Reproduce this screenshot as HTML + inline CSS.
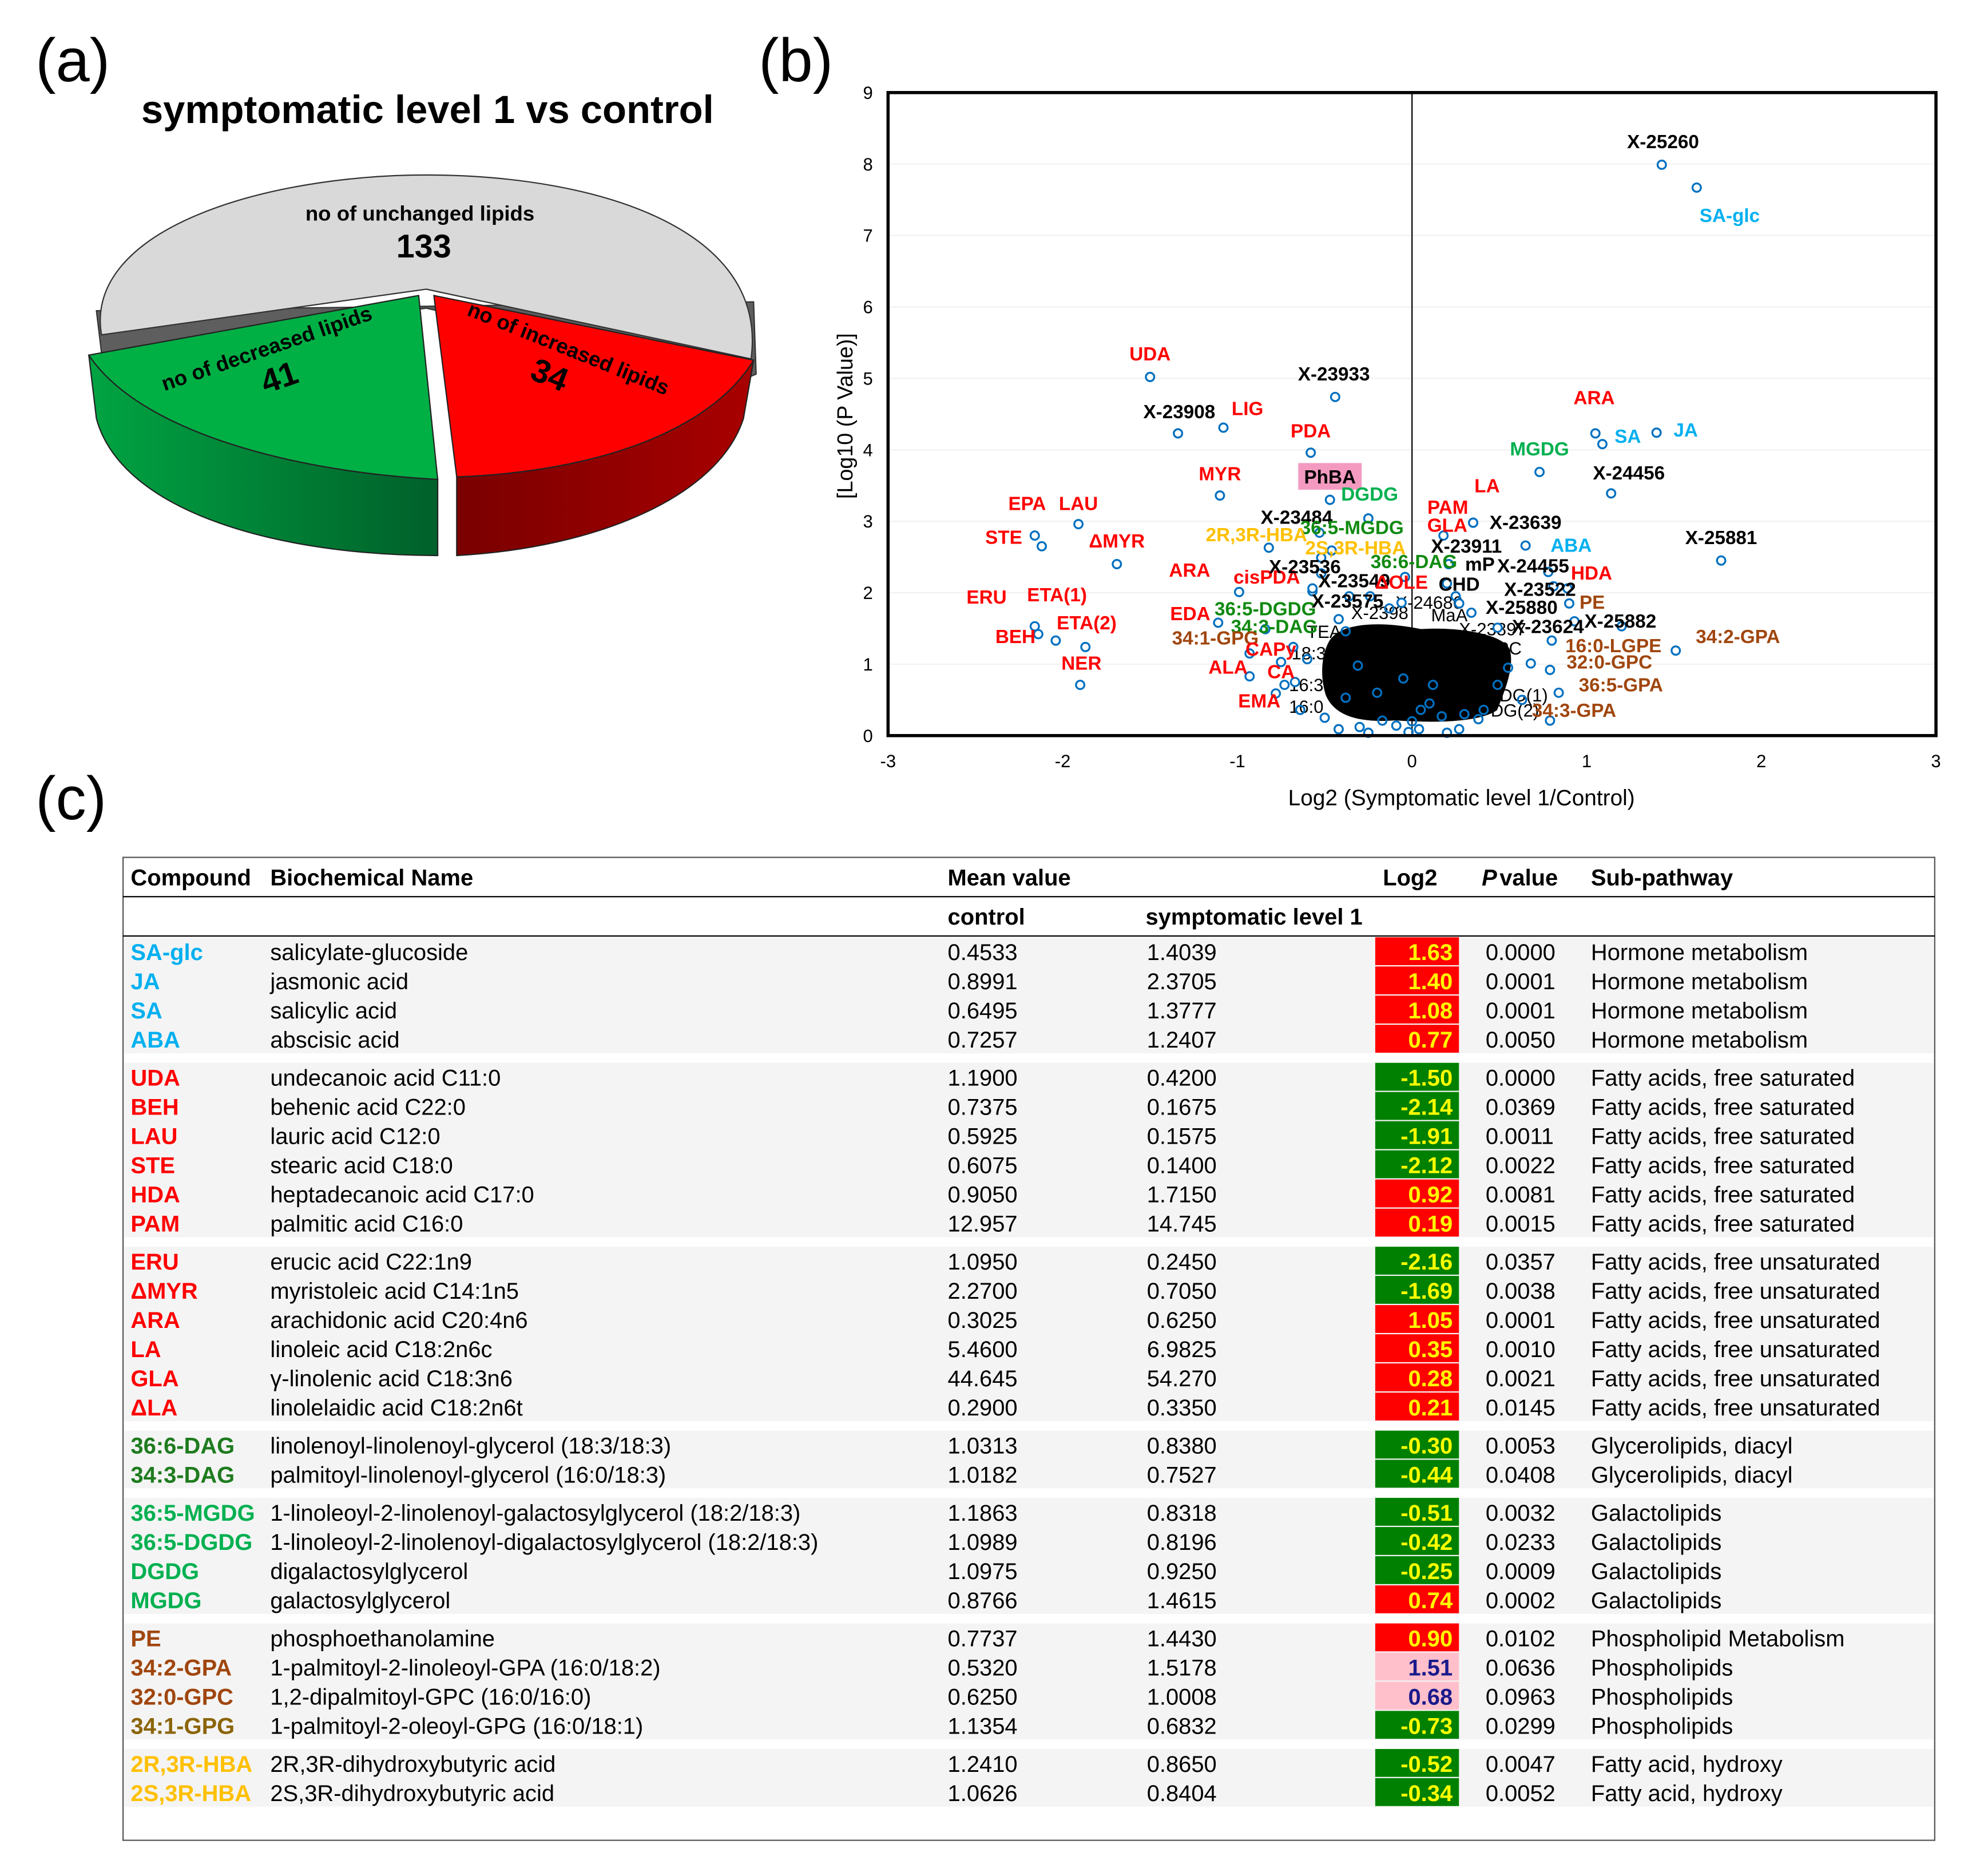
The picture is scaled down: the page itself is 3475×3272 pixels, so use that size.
<!DOCTYPE html>
<html><head><meta charset="utf-8">
<style>
html,body{margin:0;padding:0;background:#fff;}
svg{display:block;}
text{font-family:"Liberation Sans",Arial,sans-serif;}
</style></head>
<body>
<svg id="fig" width="3475" height="3272" viewBox="0 0 1567 1476" preserveAspectRatio="none" xmlns="http://www.w3.org/2000/svg">
<defs>
<linearGradient id="gside" x1="0" x2="1" y1="0" y2="0"><stop offset="0" stop-color="#00a442"/><stop offset="1" stop-color="#00602a"/></linearGradient>
<linearGradient id="rside" x1="0" x2="1" y1="0" y2="0"><stop offset="0" stop-color="#7a0000"/><stop offset="1" stop-color="#a80000"/></linearGradient>
</defs>
<rect width="1567" height="1476" fill="#fff"/>

<text x="28" y="64" font-size="48">(a)</text>
<text x="598" y="64" font-size="48">(b)</text>
<text x="28" y="646" font-size="48">(c)</text>

<g>
<text x="337" y="97" font-size="31" font-weight="bold" text-anchor="middle">symptomatic level 1 vs control</text>
<path d="M76,245 L80,278 L336,243 L584,300 L596,295 L594,238 Z" fill="#5e5e5e" stroke="#333" stroke-width="1"/>
<path d="M336,228 L80,264 C66,180 210,138 336,138 C470,138 606,180 592,283 Z" fill="#d9d9d9" stroke="#333" stroke-width="1"/>
<path d="M70,280 C110,340 230,372 345,378 L345,438 C220,438 96,404 76,330 Z" fill="url(#gside)" stroke="#222" stroke-width="1"/>
<path d="M330,233 L70,280 C110,340 230,372 345,378 Z" fill="#00b045" stroke="#222" stroke-width="1"/>
<path d="M594,284 C560,340 470,372 360,376 L360,438 C470,432 566,392 586,330 Z" fill="url(#rside)" stroke="#222" stroke-width="1"/>
<path d="M342,233 L594,284 C560,340 470,372 360,376 Z" fill="#ff0000" stroke="#222" stroke-width="1"/>
<text x="331" y="174" font-size="16.5" font-weight="bold" text-anchor="middle">no of unchanged lipids</text>
<text x="334" y="203" font-size="26" font-weight="bold" text-anchor="middle">133</text>
<g transform="translate(212,280) rotate(-19)"><text x="0" y="0" font-size="16.5" font-weight="bold" text-anchor="middle">no of decreased lipids</text>
<text x="2" y="28" font-size="26" font-weight="bold" text-anchor="middle">41</text></g>
<g transform="translate(446,280) rotate(22)"><text x="0" y="0" font-size="16.5" font-weight="bold" text-anchor="middle">no of increased lipids</text>
<text x="-6" y="28" font-size="26" font-weight="bold" text-anchor="middle">34</text></g>
</g>

<g id="volcano"></g>
<g id="tbl"></g>
</svg>

<script>
var NS="http://www.w3.org/2000/svg";
var ptLabels=["X-25260","SA-glc","UDA","X-23933","X-23908","LIG","PDA","ARA","SA","JA","MGDG","X-24456","MYR","PhBA","DGDG","LAU","EPA","STE","ΔMYR","X-25881","X-23639","GLA","LA","PAM","ABA","X-24455","HDA","X-23522","PE","X-25880","X-23624","X-25882","16:0-LGPE","32:0-GPC","36:5-GPA","34:3-GPA","34:2-GPA","ARA","cisPDA","EDA","36:5-DGDG","34:3-DAG","34:1-GPG","ETA(1)","BEH","ERU","ETA(2)","NER","ALA","CAPy","CA","EMA","X-23484","36:5-MGDG","2R,3R-HBA","2S,3R-HBA","X-23911","36:6-DAG","mP","X-23536","X-23549","X-23575","ΔOLE","CHD"];
var ptLog2=[1.43,1.63,-1.50,-0.44,-1.34,-1.08,-0.58,1.05,1.09,1.40,0.73,1.14,-1.10,-0.47,-0.25,-1.91,-2.16,-2.12,-1.69,1.77,0.65,0.18,0.35,0.35,0.78,0.81,0.89,0.90,0.93,0.49,0.80,1.20,0.79,0.68,0.84,0.79,1.51,-0.99,-0.57,-1.11,-0.84,-0.68,-0.93,-2.04,-2.14,-2.16,-1.87,-1.90,-0.93,-0.75,-0.67,-0.78,-0.53,-0.46,-0.52,-0.52,0.21,-0.04,0.20,-0.57,-0.36,-0.42,-0.06,0.27];
var ptLogP=[7.99,7.67,5.02,4.74,4.23,4.31,3.96,4.23,4.08,4.24,3.69,3.39,3.36,3.30,3.04,2.96,2.80,2.65,2.40,2.45,2.66,2.80,2.98,2.98,2.29,2.09,2.06,1.85,1.60,1.51,1.33,1.53,0.92,1.01,0.60,0.21,1.19,2.01,2.02,1.58,1.49,1.24,1.15,1.33,1.42,1.53,1.24,0.71,0.83,1.03,0.75,0.59,2.84,2.59,2.49,2.27,2.40,2.22,2.13,2.06,1.95,1.63,1.86,1.85];
var ptColorClass=["k","b","r","k","k","r","r","r","b","b","g","k","r","k","g","r","r","r","r","k","k","r","r","r","b","k","r","k","n","k","k","k","n","n","n","n","n","r","r","r","d","d","n","r","r","r","r","r","r","r","r","r","k","d","o","o","k","d","k","k","k","k","r","k"];
var labelOffsetX=[1,26,0,-1,1,19,0,-1,20,23,0,14,0,0,1,0,-6,-30,0,0,0,3,11,-20,18,-16,19,-23,14,19,-3,-1,50,62,49,19,49,-39,-36,-22,0,-15,-27,1,-18,-38,1,1,-17,-8,-11,-13,-18,16,-51,27,14,7,26,-6,4,7,0,0];
var labelOffsetY=[-18,22,-18,-18,-17,-15,-17,-28,-6,-2,-18,-16,-17,-18,-19,-16,-25,-7,-18,-18,-18,-8,-29,-12,-21,-16,-12,-11,-15,-16,-11,-4,-19,-1,-6,-8,-11,-17,-11,-7,-16,-16,-12,-36,2,-23,-19,-17,-7,-10,-8,6,-12,-18,-18,-20,-14,-12,-15,-17,-12,-14,-16,-15];
var bgLog2=[-0.42,-0.25,-0.09,-0.02,0.20,0.38,0.41,0.63,-0.64,-0.73,-0.38,0.05,-0.17,0.27,-0.60,-0.31,0.12,0.49,-0.24,-0.13,0.25,0.34,-0.82,-0.38,0.04,0.17,-0.20,0.10,-0.05,0.30,-0.50,0.55,0.00,-0.30];
var bgLogP=[0.09,0.04,0.14,0.05,0.04,0.23,0.36,0.50,0.36,0.71,0.53,0.36,0.21,0.09,1.07,0.98,0.71,0.71,1.95,1.78,1.95,1.72,2.63,1.46,0.09,0.27,0.60,0.45,0.80,0.30,0.25,0.95,0.20,0.12];
var xTicks=[-3,-2,-1,0,1,2,3];
var yTicks=[0,1,2,3,4,5,6,7,8,9];

var colorMap={k:"#000",b:"#00b0f0",r:"#ff0000",g:"#00b050",d:"#108a10",o:"#ffc000",n:"#a0460e"};
var PX0=700,PX1=1526,PY0=73,PY1=580;
function X(v){return PX0+(v+3)/6*(PX1-PX0);}
function Y(v){return PY1-v/9*(PY1-PY0);}
function mk(tag,attrs,parent){var e=document.createElementNS(NS,tag);for(var k in attrs)e.setAttribute(k,attrs[k]);parent.appendChild(e);return e;}
var V=document.getElementById("volcano");
var plotBg=mk("rect",{x:PX0,y:PY0,width:PX1-PX0,height:PY1-PY0,fill:"#fff"},V);


yTicks.forEach(function(t){
  if(t>0&&t<9){var gl=mk("line",{x1:PX0,x2:PX1,y1:Y(t),y2:Y(t),stroke:"#f2f2f2","stroke-width":1},V);
  
  }
  var tl=mk("text",{x:688,y:Y(t)+5,"font-size":14,"text-anchor":"end"},V);tl.textContent=t;
  
  
});
xTicks.forEach(function(t){
  var tl=mk("text",{x:X(t),y:605,"font-size":14,"text-anchor":"middle"},V);tl.textContent=t;
  
  
});
var zl=mk("line",{x1:X(0),x2:X(0),y1:PY0,y2:PY1,stroke:"#000","stroke-width":1},V);


var blob=mk("path",{d:"M1048,505 C1058,490 1090,490 1120,496 C1150,494 1185,500 1190,512 C1194,526 1186,545 1180,560 C1165,570 1130,570 1100,568 C1072,570 1052,565 1045,548 C1040,532 1042,515 1048,505 Z",fill:"#000"},V);


var extra=[["TEA",1030,503],["18:3",1018,520],["16:3",1016,545],["16:0",1016,562],["PC",1180,516],["DG(1)",1182,553],["DG(2)",1175,565],["MaA",1128,490],["X-23897",1150,501],["X-2398",1065,488],["X-24686",1100,480]];
extra.forEach(function(e){var t=mk("text",{x:e[1],y:e[2],"font-size":14},V);t.textContent=e[0];
  
  });
bgLog2.forEach(function(v,i){
  var c=mk("circle",{cx:X(v),cy:Y(bgLogP[i]),r:3.3,fill:"none",stroke:"#0070c0","stroke-width":1.5},V);
  
  
});
ptLog2.forEach(function(v,i){
  var c=mk("circle",{cx:X(v),cy:Y(ptLogP[i]),r:3.3,fill:"#fff",stroke:"#0070c0","stroke-width":1.5},V);
  
  
});
ptLog2.forEach(function(v,i){
  var lx=X(v)+labelOffsetX[i],ly=Y(ptLogP[i])+labelOffsetY[i];
  if(ptLabels[i]==="PhBA"){var bx=mk("rect",{x:lx-25,y:ly-11,width:50,height:21,fill:"#f49ac1"},V);
    
    }
  var t=mk("text",{x:lx,y:ly+5,"font-size":15,"font-weight":"bold","text-anchor":"middle",fill:colorMap[ptColorClass[i]]},V);
  t.textContent=ptLabels[i];
  
  
});
var fr=mk("rect",{x:PX0,y:PY0,width:PX1-PX0,height:PY1-PY0,fill:"none",stroke:"#000","stroke-width":2.5},V);


var xt=mk("text",{x:1152,y:635,"font-size":17.5,"text-anchor":"middle"},V);xt.textContent="Log2 (Symptomatic level 1/Control)";


var yt=mk("text",{x:0,y:0,"font-size":17,"text-anchor":"middle",transform:"translate(672,328) rotate(-90)"},V);yt.textContent="[Log10 (P Value)]";



var T=document.getElementById("tbl");
var rows=[
[["SA-glc","b","salicylate-glucoside","0.4533","1.4039","1.63","r","0.0000","Hormone metabolism"],
 ["JA","b","jasmonic acid","0.8991","2.3705","1.40","r","0.0001","Hormone metabolism"],
 ["SA","b","salicylic acid","0.6495","1.3777","1.08","r","0.0001","Hormone metabolism"],
 ["ABA","b","abscisic acid","0.7257","1.2407","0.77","r","0.0050","Hormone metabolism"]],
[["UDA","r","undecanoic acid C11:0","1.1900","0.4200","-1.50","g","0.0000","Fatty acids, free saturated"],
 ["BEH","r","behenic acid C22:0","0.7375","0.1675","-2.14","g","0.0369","Fatty acids, free saturated"],
 ["LAU","r","lauric acid C12:0","0.5925","0.1575","-1.91","g","0.0011","Fatty acids, free saturated"],
 ["STE","r","stearic acid C18:0","0.6075","0.1400","-2.12","g","0.0022","Fatty acids, free saturated"],
 ["HDA","r","heptadecanoic acid C17:0","0.9050","1.7150","0.92","r","0.0081","Fatty acids, free saturated"],
 ["PAM","r","palmitic acid C16:0","12.957","14.745","0.19","r","0.0015","Fatty acids, free saturated"]],
[["ERU","r","erucic acid C22:1n9","1.0950","0.2450","-2.16","g","0.0357","Fatty acids, free unsaturated"],
 ["ΔMYR","r","myristoleic acid C14:1n5","2.2700","0.7050","-1.69","g","0.0038","Fatty acids, free unsaturated"],
 ["ARA","r","arachidonic acid C20:4n6","0.3025","0.6250","1.05","r","0.0001","Fatty acids, free unsaturated"],
 ["LA","r","linoleic acid C18:2n6c","5.4600","6.9825","0.35","r","0.0010","Fatty acids, free unsaturated"],
 ["GLA","r","γ-linolenic acid C18:3n6","44.645","54.270","0.28","r","0.0021","Fatty acids, free unsaturated"],
 ["ΔLA","r","linolelaidic acid C18:2n6t","0.2900","0.3350","0.21","r","0.0145","Fatty acids, free unsaturated"]],
[["36:6-DAG","d","linolenoyl-linolenoyl-glycerol (18:3/18:3)","1.0313","0.8380","-0.30","g","0.0053","Glycerolipids, diacyl"],
 ["34:3-DAG","d","palmitoyl-linolenoyl-glycerol (16:0/18:3)","1.0182","0.7527","-0.44","g","0.0408","Glycerolipids, diacyl"]],
[["36:5-MGDG","g","1-linoleoyl-2-linolenoyl-galactosylglycerol (18:2/18:3)","1.1863","0.8318","-0.51","g","0.0032","Galactolipids"],
 ["36:5-DGDG","g","1-linoleoyl-2-linolenoyl-digalactosylglycerol (18:2/18:3)","1.0989","0.8196","-0.42","g","0.0233","Galactolipids"],
 ["DGDG","g","digalactosylglycerol","1.0975","0.9250","-0.25","g","0.0009","Galactolipids"],
 ["MGDG","g","galactosylglycerol","0.8766","1.4615","0.74","r","0.0002","Galactolipids"]],
[["PE","n","phosphoethanolamine","0.7737","1.4430","0.90","r","0.0102","Phospholipid Metabolism"],
 ["34:2-GPA","n","1-palmitoyl-2-linoleoyl-GPA (16:0/18:2)","0.5320","1.5178","1.51","p","0.0636","Phospholipids"],
 ["32:0-GPC","n","1,2-dipalmitoyl-GPC (16:0/16:0)","0.6250","1.0008","0.68","p","0.0963","Phospholipids"],
 ["34:1-GPG","v","1-palmitoyl-2-oleoyl-GPG (16:0/18:1)","1.1354","0.6832","-0.73","g","0.0299","Phospholipids"]],
[["2R,3R-HBA","o","2R,3R-dihydroxybutyric acid","1.2410","0.8650","-0.52","g","0.0047","Fatty acid, hydroxy"],
 ["2S,3R-HBA","o","2S,3R-dihydroxybutyric acid","1.0626","0.8404","-0.34","g","0.0052","Fatty acid, hydroxy"]]
];
var tcol={b:"#00b0f0",r:"#ff0000",d:"#1e7b1e",g:"#00b050",n:"#a0460e",v:"#8b6508",o:"#ffc000"};
function tx(str,x,y,o){var t=mk("text",{x:x,y:y,"font-size":o.fs||18},T);
  if(o.b)t.setAttribute("font-weight","bold");if(o.fill)t.setAttribute("fill",o.fill);if(o.a)t.setAttribute("text-anchor",o.a);if(o.i)t.setAttribute("font-style","italic");
  t.textContent=str;
  return t;}
var box=mk("rect",{x:97,y:676,width:1428,height:775,fill:"none",stroke:"#555","stroke-width":1},T);


var l1=mk("line",{x1:97,x2:1525,y1:707,y2:707,stroke:"#000","stroke-width":1},T);


var l2=mk("line",{x1:97,x2:1525,y1:738,y2:738,stroke:"#000","stroke-width":1},T);


tx("Compound",103,698,{b:1,n:'header-compound'});tx("Biochemical Name",213,698,{b:1,n:'header-name'});
tx("Mean value",747,698,{b:1,n:'header-mean'});tx("Log2",1090,698,{b:1,n:'header-log2'});
tx("P",1168,698,{b:1,i:1,n:'header-pvalue'});tx("value",1182,698,{b:1,n:'header-pvalue-text'});
tx("Sub-pathway",1254,698,{b:1,n:'header-subpathway'});
tx("control",747,729,{b:1,n:'header-control'});tx("symptomatic level 1",903,729,{b:1,n:'header-symptomatic'});
var y=750;
rows.forEach(function(g){
  var band=mk("rect",{x:98,y:y-11,width:1426,height:g.length*23-0.5,fill:"#f4f4f4"},T);
  
  
  g.forEach(function(r){
    var cb=r[6]==="r"?"#ff0000":(r[6]==="g"?"#008000":"#ffc0cb");
    var cell=mk("rect",{x:1084,y:y-11,width:66,height:22,fill:cb},T);
    
    
    tx(r[0],103,y+7,{b:1,fill:tcol[r[1]],n:'compound-abbrev'});
    tx(r[2],213,y+7,{n:'biochemical-name'});
    tx(r[3],747,y+7,{n:'control-mean'});
    tx(r[4],904,y+7,{n:'symptomatic-mean'});
    tx(r[5],1145,y+7,{b:1,a:"end",fill:r[6]==="p"?"#1a1a8c":"#ffff00",n:'log2-value'});
    tx(r[7],1171,y+7,{n:'p-value'});
    tx(r[8],1254,y+7,{n:'sub-pathway'});
    y+=23;
  });
  y+=7;
});
</script>
</body></html>
